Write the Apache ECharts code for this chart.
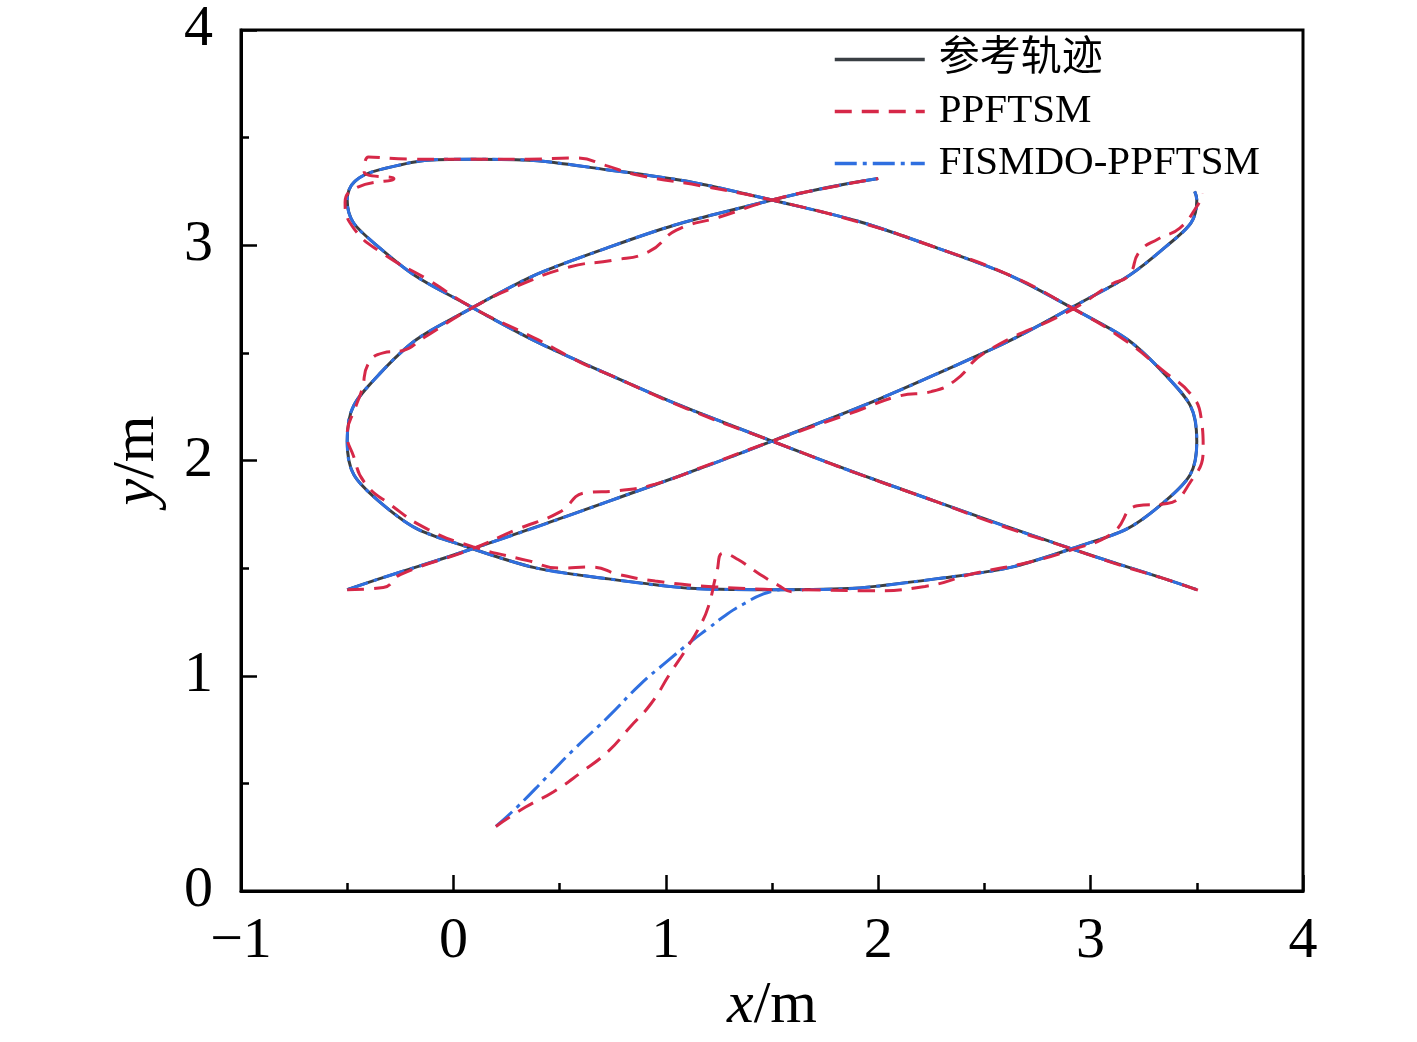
<!DOCTYPE html>
<html>
<head>
<meta charset="utf-8">
<script src="https://cdn.jsdelivr.net/npm/echarts@6/dist/echarts.min.js"></script>
<style>
  html, body { margin: 0; padding: 0; background: #fff; }
  #chart { width: 1417px; height: 1042px; }
</style>
</head>
<body>
<div id="chart"></div>
<script>
// series names
const names = ['参考轨迹', 'PPFTSM', 'FISMDO-PPFTSM'];

// reference trajectory (two visible pieces, the rest is under the legend)
const refSeg1 = [[2.00,3.31],[1.50,3.21],[0.73,2.99],[0.09,2.71],[-0.35,2.40],[-0.50,2.09],[-0.35,1.81],
  [0.09,1.59],[0.73,1.45],[1.50,1.40],[2.27,1.45],[2.91,1.59],[3.35,1.81],[3.50,2.09],[3.35,2.40],
  [2.91,2.71],[2.27,2.99],[1.50,3.21],[0.73,3.35],[0.09,3.40],[-0.35,3.35],[-0.50,3.21],[-0.35,2.99],
  [0.09,2.71],[0.73,2.40],[1.50,2.09],[2.27,1.81],[2.91,1.59],[3.35,1.45],[3.50,1.40]];
const refSeg2 = [[-0.50,1.40],[-0.35,1.45],[0.09,1.59],[0.73,1.81],[1.50,2.09],[2.27,2.40],[2.91,2.71],
  [3.35,2.99],[3.50,3.21],[3.49,3.25]];

// FISMDO-PPFTSM: start-up part, afterwards it sits on the reference
const fisApproach = [[0.20,0.30],[0.30,0.39],[0.44,0.53],[0.58,0.67],[0.73,0.81],[0.88,0.96],[1.01,1.07],
  [1.12,1.16],[1.20,1.22],[1.28,1.28],[1.36,1.33],[1.46,1.38],[1.54,1.40]];

// PPFTSM
const ppfApproach = [[0.20,0.30],[0.34,0.39],[0.47,0.46],[0.60,0.55],[0.73,0.65],[0.83,0.76],[0.93,0.87],
  [1.02,1.01],[1.10,1.13],[1.16,1.23],[1.20,1.32],[1.24,1.48],[1.27,1.57],[1.34,1.54],[1.43,1.48],
  [1.53,1.42],[1.60,1.39],[1.65,1.40]];
const ppfSeg1 = [[1.65,1.40],[1.95,1.395],[2.22,1.415],[2.45,1.475],[2.70,1.525],[2.91,1.585],[3.10,1.66],
  [3.22,1.79],[3.36,1.80],[3.47,1.90],[3.53,2.05],[3.52,2.20],[3.47,2.31],[3.35,2.41],[3.16,2.56],
  [2.91,2.71],[2.62,2.86],[2.27,2.99],[1.90,3.11],[1.50,3.21],[1.20,3.27],[0.85,3.33],[0.72,3.37],
  [0.58,3.405],[0.35,3.40],[0.09,3.40],[-0.20,3.40],[-0.40,3.41],[-0.42,3.34],[-0.28,3.31],[-0.45,3.27],
  [-0.51,3.20],[-0.47,3.08],[-0.33,2.96],[-0.12,2.84],[0.09,2.71],[0.40,2.56],[0.60,2.455],[0.73,2.40],
  [1.10,2.24],[1.50,2.09],[1.90,1.94],[2.27,1.81],[2.60,1.69],[2.91,1.59],[3.15,1.51],[3.35,1.45],
  [3.54,1.385]];
const ppfSeg2 = [[1.50,1.40],[1.20,1.415],[0.95,1.44],[0.78,1.47],[0.65,1.505],[0.50,1.50],[0.35,1.535],
  [0.09,1.60],[-0.12,1.68],[-0.29,1.79],[-0.42,1.90],[-0.47,2.02],[-0.50,2.12],[-0.46,2.25],[-0.43,2.33],
  [-0.40,2.45],[-0.33,2.50],[-0.24,2.51],[-0.14,2.57],[0.09,2.71],[0.30,2.81],[0.55,2.90],[0.75,2.93],
  [0.92,2.97],[1.05,3.07],[1.25,3.13],[1.50,3.21],[1.75,3.265],[2.00,3.31]];
const ppfSeg3 = [[-0.50,1.40],[-0.33,1.41],[-0.25,1.47],[0.09,1.59],[0.30,1.68],[0.50,1.76],[0.62,1.85],
  [0.78,1.86],[0.95,1.89],[1.20,1.98],[1.50,2.09],[1.90,2.23],[2.10,2.30],[2.25,2.32],[2.36,2.37],
  [2.50,2.50],[2.91,2.70],[3.10,2.82],[3.18,2.86],[3.23,2.97],[3.32,3.03],[3.42,3.08],[3.50,3.18],
  [3.53,3.24]];

// axis ranges
const xRange = [-1, 4];
const yRange = [0, 4];

const gap = ['-', '-'];
function joinSegs(segs) {
    let out = [];
    segs.forEach(function(s, i) {
        if (i > 0) out.push(gap);
        out = out.concat(s);
    });
    return out;
}

const serif = "'Liberation Serif', 'Times New Roman', 'Noto Sans CJK SC', serif";
const chart = echarts.init(document.getElementById('chart'));

function axisCommon() {
    return {
        type: 'value',
        interval: 1,
        axisLine: { show: true, onZero: false, lineStyle: { color: '#000', width: 3 } },
        axisTick: { show: true, inside: true, length: 16, lineStyle: { color: '#000', width: 2.5 } },
        minorTick: { show: true, splitNumber: 2, length: 8, lineStyle: { color: '#000', width: 2.5 } },
        splitLine: { show: false },
        minorSplitLine: { show: false },
        axisLabel: {
            color: '#000', fontFamily: serif, fontSize: 58,
            formatter: function(v) { return String(v).replace('-', '\u2212'); }
        },
        nameLocation: 'middle',
        nameTextStyle: {
            color: '#000', fontFamily: serif, fontSize: 60,
            rich: {
                i: { fontStyle: 'italic', fontFamily: serif, fontSize: 60, color: '#000' },
                n: { fontFamily: serif, fontSize: 60, color: '#000' }
            }
        }
    };
}

const xAxis = axisCommon();
xAxis.min = xRange[0];
xAxis.max = xRange[1];
xAxis.name = '{i|x}{n|/m}';
xAxis.nameGap = 80;
xAxis.axisLabel.margin = 22;

const yAxis = axisCommon();
yAxis.min = yRange[0];
yAxis.max = yRange[1];
yAxis.name = '{i|y}{n|/m}';
yAxis.nameGap = 74;
yAxis.axisLabel.margin = 28;

const option = {
    backgroundColor: '#ffffff',
    animation: false,
    grid: {
        left: 241, right: 114, top: 30, bottom: 151,
        show: true, borderColor: '#000', borderWidth: 3
    },
    legend: {
        data: names,
        orient: 'vertical',
        left: 828,
        top: 34,
        itemWidth: 90,
        itemHeight: 20,
        itemGap: 11,
        itemStyle: { opacity: 0 },
        lineStyle: { width: 3.5 },
        textStyle: { color: '#000', fontFamily: serif, fontSize: 41, padding: [0, 0, 0, 9] }
    },
    xAxis: xAxis,
    yAxis: yAxis,
    series: [
        {
            name: names[0],
            type: 'line',
            z: 2,
            smooth: true,
            symbol: 'none',
            connectNulls: false,
            lineStyle: { color: '#3a3f44', width: 3 },
            itemStyle: { color: '#3a3f44' },
            data: joinSegs([refSeg1, refSeg2])
        },
        {
            name: names[1],
            type: 'line',
            z: 4,
            smooth: true,
            symbol: 'none',
            connectNulls: false,
            lineStyle: { color: '#d62848', width: 3, type: [17, 10] },
            itemStyle: { color: '#d62848' },
            data: joinSegs([ppfApproach, ppfSeg1, ppfSeg2, ppfSeg3])
        },
        {
            name: names[2],
            type: 'line',
            z: 3,
            smooth: true,
            symbol: 'none',
            connectNulls: false,
            lineStyle: { color: '#2f6fe0', width: 3, type: [22, 6, 4, 6] },
            itemStyle: { color: '#2f6fe0' },
            data: joinSegs([fisApproach, refSeg1, refSeg2])
        }
    ]
};

chart.setOption(option);
</script>
</body>
</html>
